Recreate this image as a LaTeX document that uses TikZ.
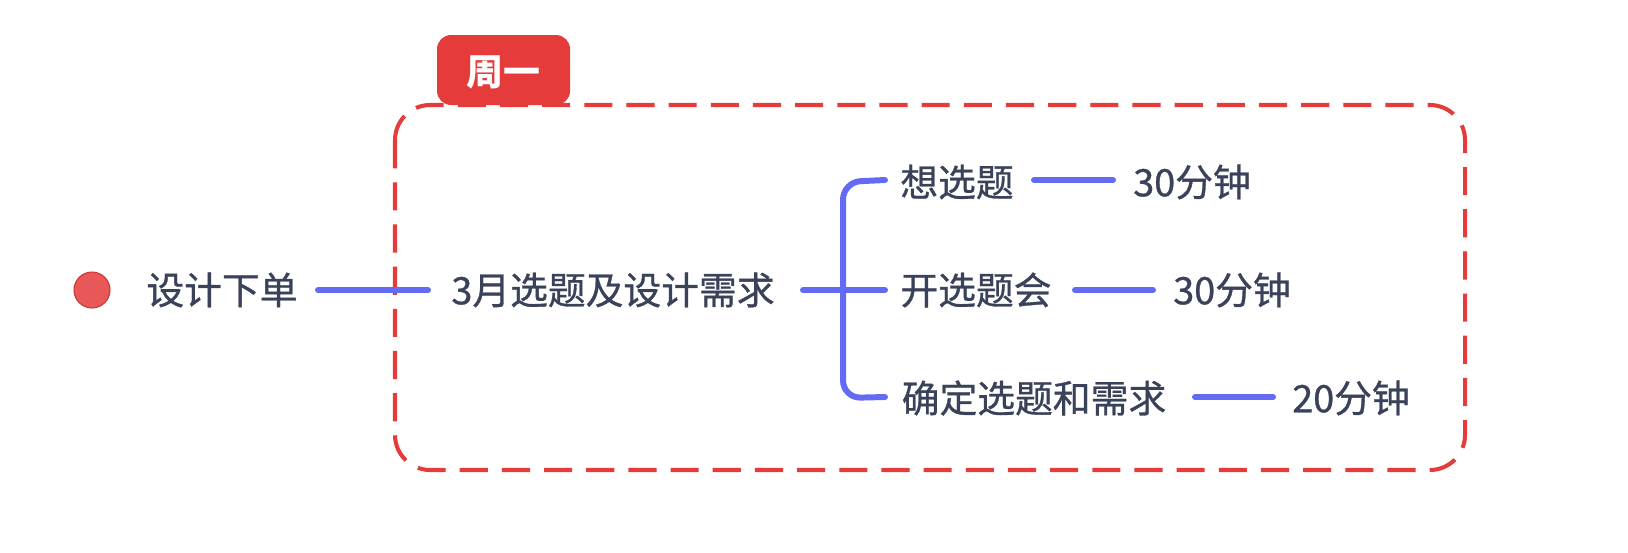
\documentclass[tikz,border=0pt]{standalone}
\usepackage{fontspec}
\newfontfamily\cjk[FakeBold=0.8]{Noto Sans CJK SC}
\newfontfamily\cjkb{Noto Sans CJK SC}
\definecolor{txt}{HTML}{3A4259}
\definecolor{blu}{HTML}{636BF5}
\definecolor{rd}{HTML}{E53B3B}
\begin{document}
\begin{tikzpicture}[x=0.02cm,y=-0.02cm,
  lbl/.style={font=\cjk\fontsize{21.5}{25}\selectfont, text=txt, inner sep=0pt},
  conn/.style={draw=blu, line width=3.4pt, line cap=round}]
\useasboundingbox (0,0) rectangle (1628,552);
% frame
\draw[rd, line width=2.3pt, dash pattern=on 16pt off 8pt, rounded corners=20pt] (395,105) rectangle (1465,470);
\fill[rd, rounded corners=8pt] (437,105) -- (437,35) -- (570,35) -- (570,105) -- cycle;
\node[font=\cjkb\bfseries\fontsize{21}{24}\selectfont, text=white] (tab) at (503,72) {周一};
% root
\node[circle, fill=rd!85!white, draw=rd!90!black, line width=0.6pt, minimum size=0.72cm, inner sep=0pt] (dot) at (92,290) {};
\node[lbl] (root) at (222,290) {设计下单};
\node[lbl] (main) at (613,290) {3月选题及设计需求};
\node[lbl] (a) at (957,182) {想选题};
\node[lbl] (b) at (976,290) {开选题会};
\node[lbl] (c) at (1034,398) {确定选题和需求};
\node[lbl] (a2) at (1192,182) {30分钟};
\node[lbl] (b2) at (1232,290) {30分钟};
\node[lbl] (c2) at (1351,398) {20分钟};
\coordinate (j) at (843,290);
\draw[conn] (318,290) -- (428,290);
\draw[conn] (803,290) -- (b.west -| j) -- (885,290);
\draw[conn, rounded corners=10pt] (885,180) -- (a.west -| j) -- (c.west -| j) -- (885,397);
\draw[conn] (1034,180) -- (1113,180);
\draw[conn] (1075,290) -- (1153,290);
\draw[conn] (1195,397) -- (1273,397);
\end{tikzpicture}
\end{document}
